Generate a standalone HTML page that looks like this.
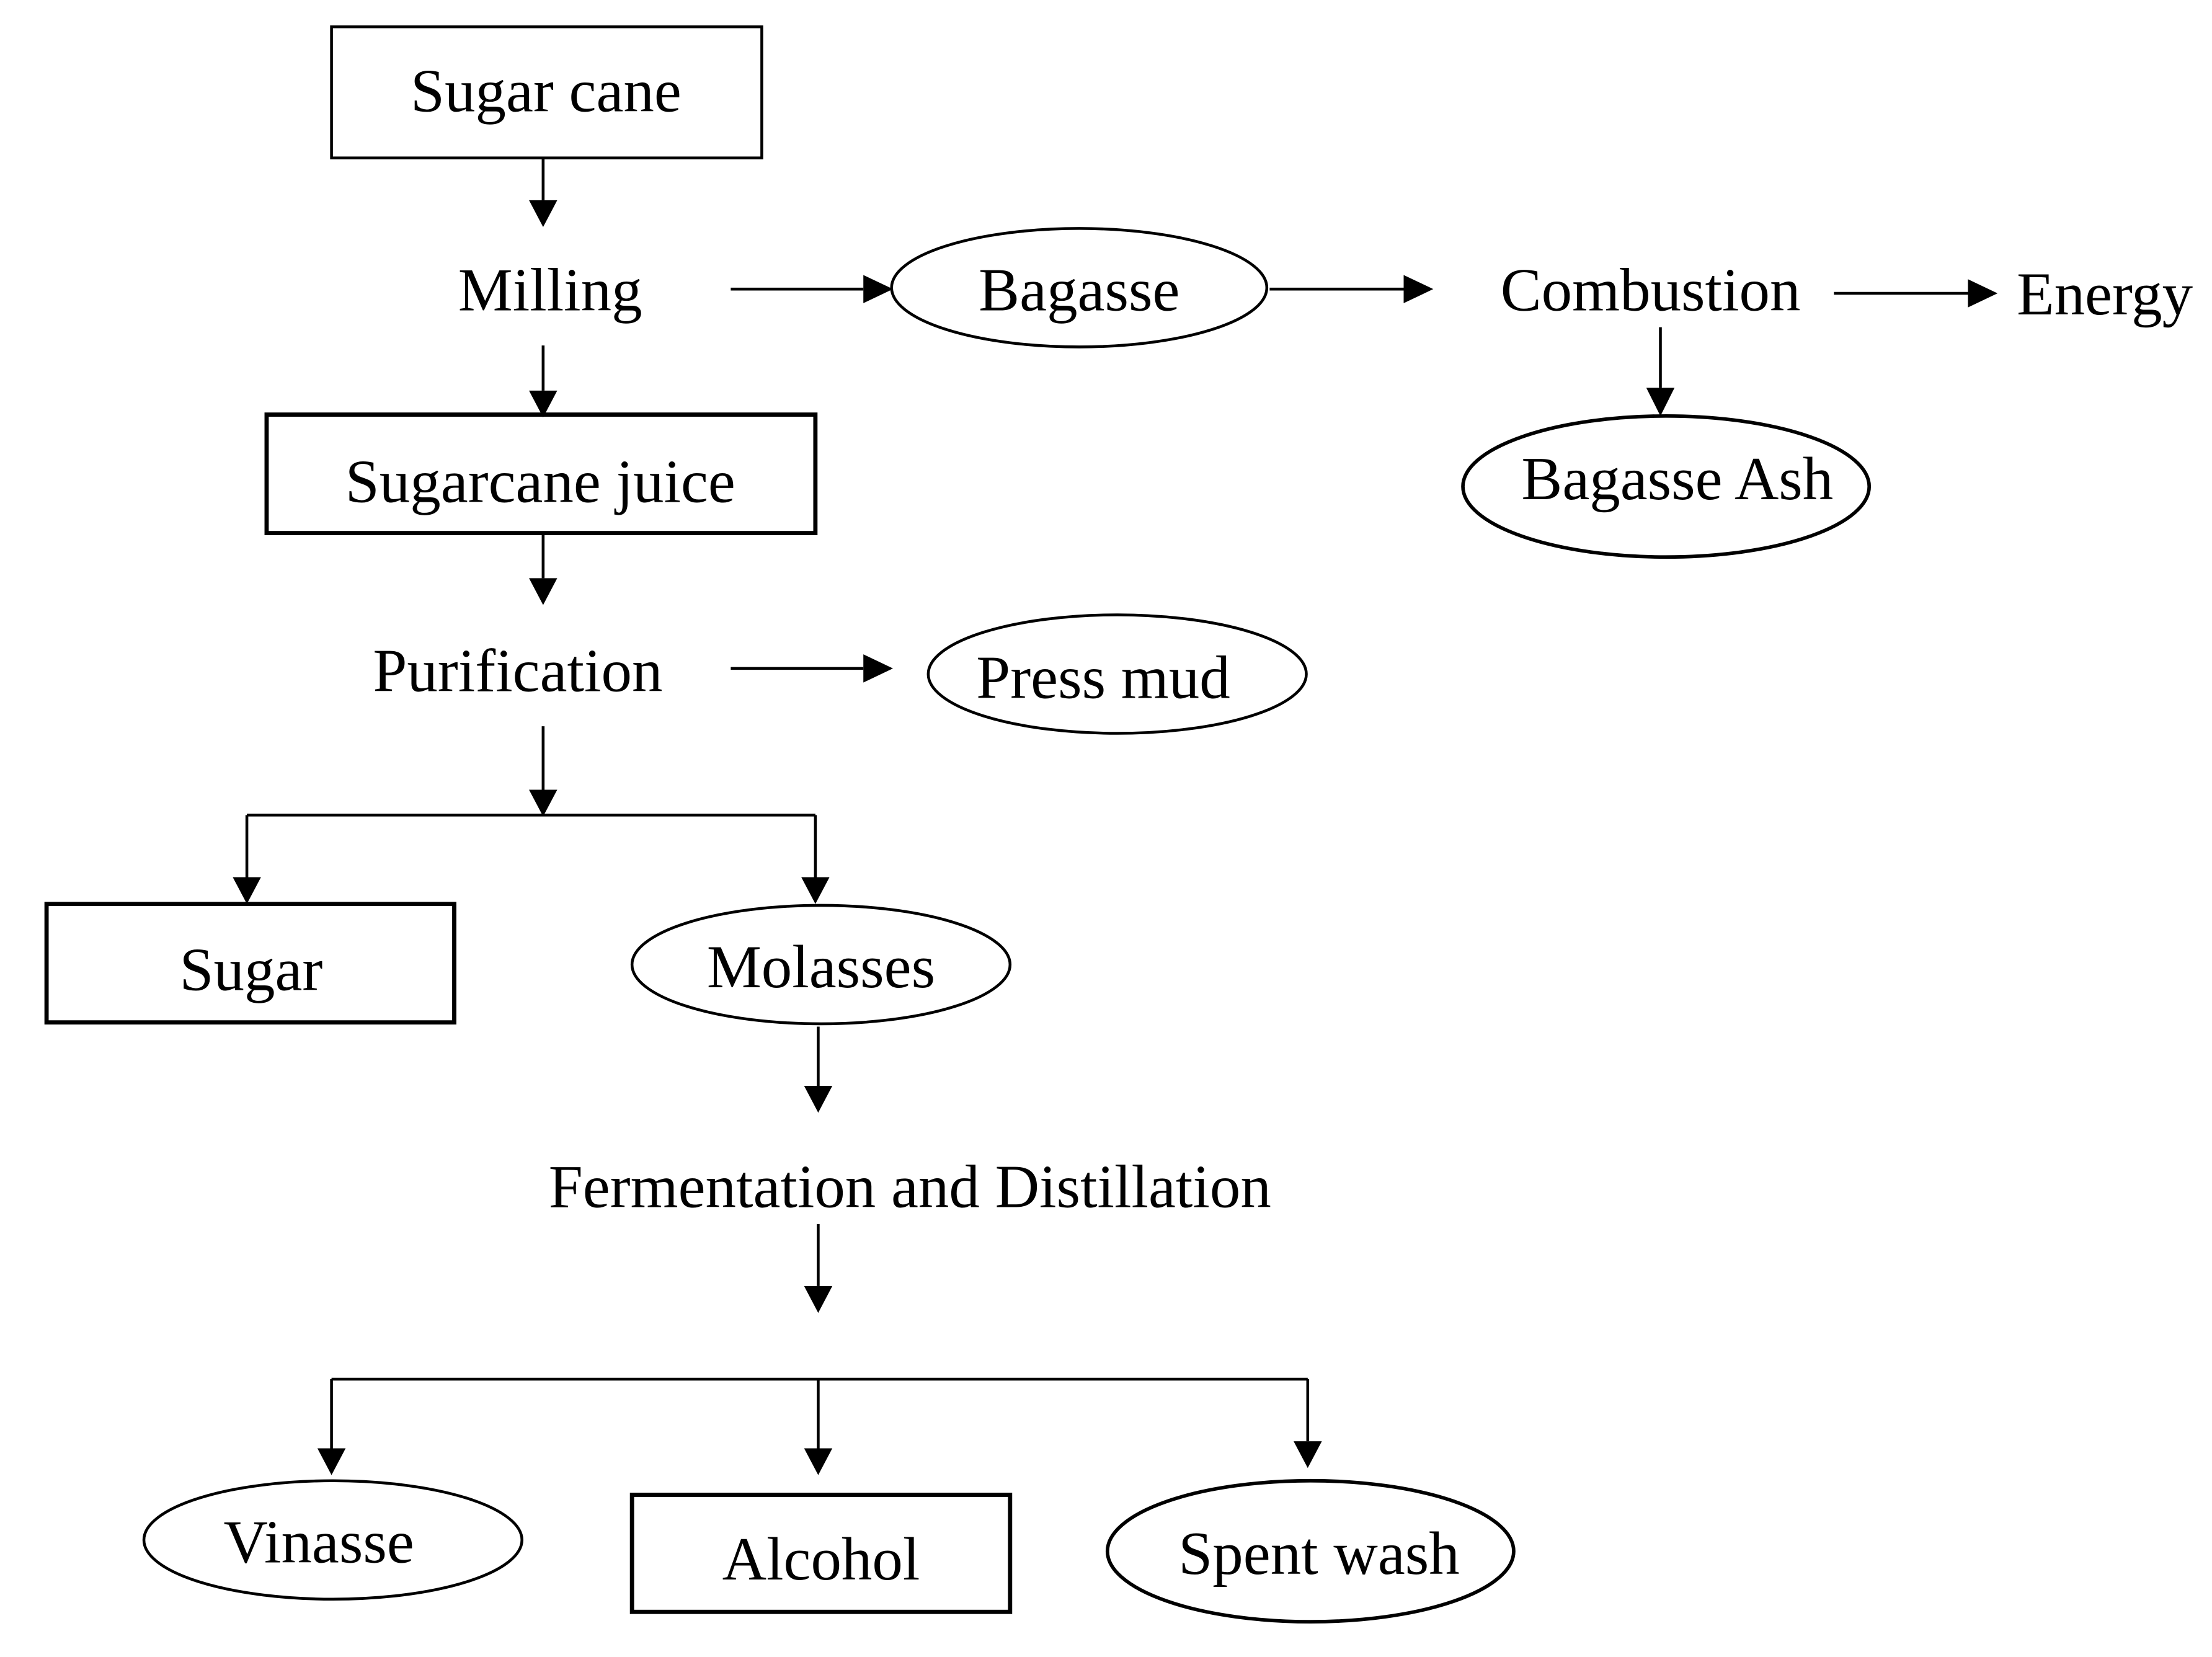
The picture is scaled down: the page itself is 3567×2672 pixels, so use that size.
<!DOCTYPE html>
<html><head><meta charset="utf-8"><style>
html,body{margin:0;padding:0;background:#fff;}
svg{display:block;}
text{font-family:"Liberation Serif",serif;font-size:43.5px;fill:#000;}
</style></head><body>
<svg width="3567" height="2672" viewBox="0 0 1568 1175" preserveAspectRatio="none" xmlns="http://www.w3.org/2000/svg">
<g fill="none" stroke="#000" stroke-width="2">
<rect x="235" y="19" width="305" height="93"/>
<rect x="189" y="294" width="389" height="84" stroke-width="3"/>
<rect x="33" y="641" width="289" height="84" stroke-width="3"/>
<rect x="448" y="1060" width="268" height="83" stroke-width="3"/>
<ellipse cx="765" cy="204" rx="133" ry="42"/>
<ellipse cx="1181" cy="345" rx="144" ry="50" stroke-width="2.5"/>
<ellipse cx="792" cy="478" rx="134" ry="42"/>
<ellipse cx="582" cy="684" rx="134" ry="42"/>
<ellipse cx="236" cy="1092" rx="134" ry="42"/>
<ellipse cx="929" cy="1100" rx="144" ry="50" stroke-width="2.5"/>
<line x1="385" y1="112" x2="385" y2="142"/>
<line x1="518" y1="205" x2="612" y2="205"/>
<line x1="900" y1="205" x2="995" y2="205"/>
<line x1="1300" y1="208" x2="1395" y2="208"/>
<line x1="1177" y1="232" x2="1177" y2="275"/>
<line x1="385" y1="245" x2="385" y2="277"/>
<line x1="385" y1="378" x2="385" y2="410"/>
<line x1="518" y1="474" x2="612" y2="474"/>
<line x1="385" y1="515" x2="385" y2="560"/>
<line x1="175" y1="578" x2="578" y2="578"/>
<line x1="175" y1="578" x2="175" y2="622"/>
<line x1="578" y1="578" x2="578" y2="622"/>
<line x1="580" y1="728" x2="580" y2="770"/>
<line x1="580" y1="868" x2="580" y2="912"/>
<line x1="235" y1="978" x2="927" y2="978"/>
<line x1="235" y1="978" x2="235" y2="1027"/>
<line x1="580" y1="978" x2="580" y2="1027"/>
<line x1="927" y1="978" x2="927" y2="1022"/>
</g>
<g fill="#000">
<polygon points="375,142 395,142 385,161"/>
<polygon points="612,195 612,215 633,205"/>
<polygon points="995,195 995,215 1016,205"/>
<polygon points="1395,198 1395,218 1416,208"/>
<polygon points="1167,275 1187,275 1177,295"/>
<polygon points="375,277 395,277 385,296"/>
<polygon points="375,410 395,410 385,429"/>
<polygon points="612,464 612,484 633,474"/>
<polygon points="375,560 395,560 385,579"/>
<polygon points="165,622 185,622 175,641"/>
<polygon points="568,622 588,622 578,641"/>
<polygon points="570,770 590,770 580,789"/>
<polygon points="570,912 590,912 580,931"/>
<polygon points="225,1027 245,1027 235,1046"/>
<polygon points="570,1027 590,1027 580,1046"/>
<polygon points="917,1022 937,1022 927,1041"/>
</g>
<g text-anchor="middle">
<text x="387" y="79">Sugar cane</text>
<text x="390" y="220">Milling</text>
<text x="765" y="220">Bagasse</text>
<text x="1170" y="220">Combustion</text>
<text x="1492" y="223">Energy</text>
<text x="1189" y="354">Bagasse Ash</text>
<text x="383" y="356">Sugarcane juice</text>
<text x="367" y="490">Purification</text>
<text x="782" y="495">Press mud</text>
<text x="178" y="702">Sugar</text>
<text x="582" y="700">Molasses</text>
<text x="645" y="856">Fermentation and Distillation</text>
<text x="226" y="1108">Vinasse</text>
<text x="582" y="1120">Alcohol</text>
<text x="935" y="1116">Spent wash</text>
</g>
</svg>
</body></html>
